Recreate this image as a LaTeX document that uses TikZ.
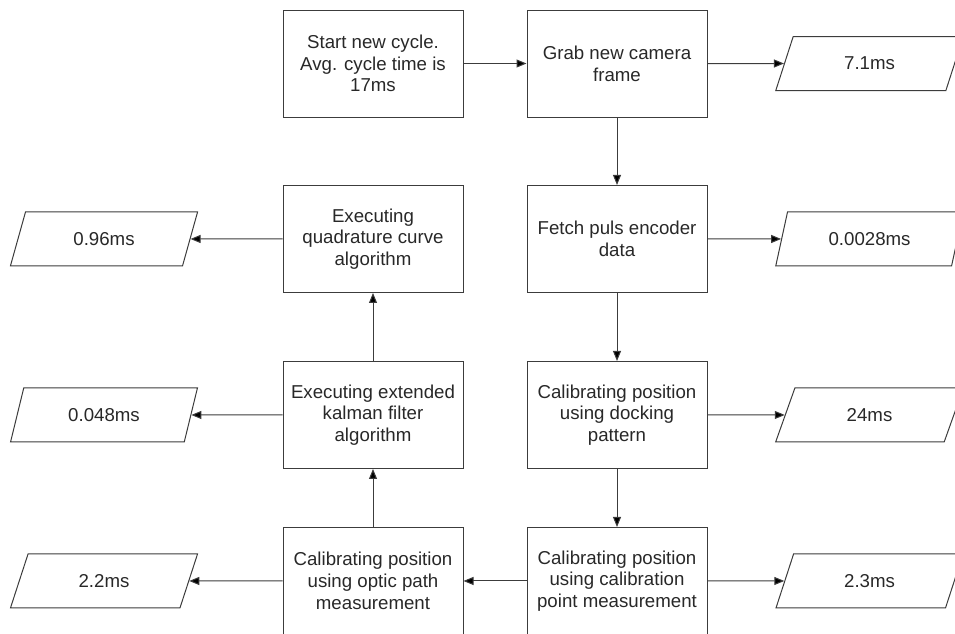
\documentclass[tikz,border=0pt]{standalone}
\usepackage{fontspec}
\setmainfont{Liberation Sans}
\usepackage{xcolor}
\usetikzlibrary{positioning, shapes.geometric, arrows.meta}

\definecolor{linegray}{RGB}{60,60,60}
\definecolor{textgray}{RGB}{40,40,40}

\tikzset{
  procbox/.style={draw=linegray, line width=0.75pt, rectangle, align=center,
    minimum width=135pt, minimum height=80.25pt, inner sep=2pt,
    text=textgray, font=\fontsize{14pt}{16.3pt}\selectfont},
  timebox/.style={draw=linegray, line width=0.75pt, trapezium,
    trapezium left angle=66, trapezium right angle=114,
    trapezium stretches=true, minimum width=141pt, minimum height=40.5pt,
    inner sep=0pt, text=textgray, font=\fontsize{14pt}{16.3pt}\selectfont},
  flow/.style={draw=linegray, line width=0.75pt,
    -{Triangle[length=7.5pt,width=6pt]}}
}

\begin{document}
\begin{tikzpicture}[x=0.75pt, y=-0.75pt, on grid]
   \useasboundingbox (0,0) rectangle (955,633);

   % right column (top to bottom)
   \node[procbox] (start) at (373,63.5) {Start new cycle.\\Avg. cycle time is\\17ms};
   \node[procbox] (grab) [right=183pt of start] {Grab new camera\\frame};
   \node[procbox] (fetch) [below=131.6pt of grab] {Fetch puls encoder\\data};
   \node[procbox] (dock) [below=132pt of fetch] {Calibrating position\\using docking\\pattern};
   \node[procbox] (calpoint) [below=124.5pt of dock] {Calibrating position\\using calibration\\point measurement};

   % left column (bottom to top)
   \node[procbox] (optic) [left=183pt of calpoint] {Calibrating position\\using optic path\\measurement};
   \node[procbox] (kalman) [above=124.5pt of optic] {Executing extended\\kalman filter\\algorithm};
   \node[procbox] (quad) [above=132pt of kalman] {Executing\\quadrature curve\\algorithm};

   % measured times
   \node[timebox] (t_grab) [right=189.4pt of grab] {7.1ms};
   \node[timebox] (t_fetch) [right=189.4pt of fetch] {0.0028ms};
   \node[timebox] (t_dock) [right=189.4pt of dock] {24ms};
   \node[timebox] (t_calpoint) [right=189.4pt of calpoint] {2.3ms};
   \node[timebox] (t_quad) [left=201.75pt of quad] {0.96ms};
   \node[timebox] (t_kalman) [left=201.75pt of kalman] {0.048ms};
   \node[timebox] (t_optic) [left=201.75pt of optic] {2.2ms};

   \path[flow]
    % cycle
    (start) edge (grab)
    (grab) edge (fetch)
    (fetch) edge (dock)
    (dock) edge (calpoint)
    (calpoint) edge (optic)
    (optic) edge (kalman)
    (kalman) edge (quad)
    % times
    (grab) edge (t_grab)
    (fetch) edge (t_fetch)
    (dock) edge (t_dock)
    (calpoint) edge (t_calpoint)
    (quad) edge (t_quad)
    (kalman) edge (t_kalman)
    (optic) edge (t_optic)
    ;
\end{tikzpicture}
\end{document}
